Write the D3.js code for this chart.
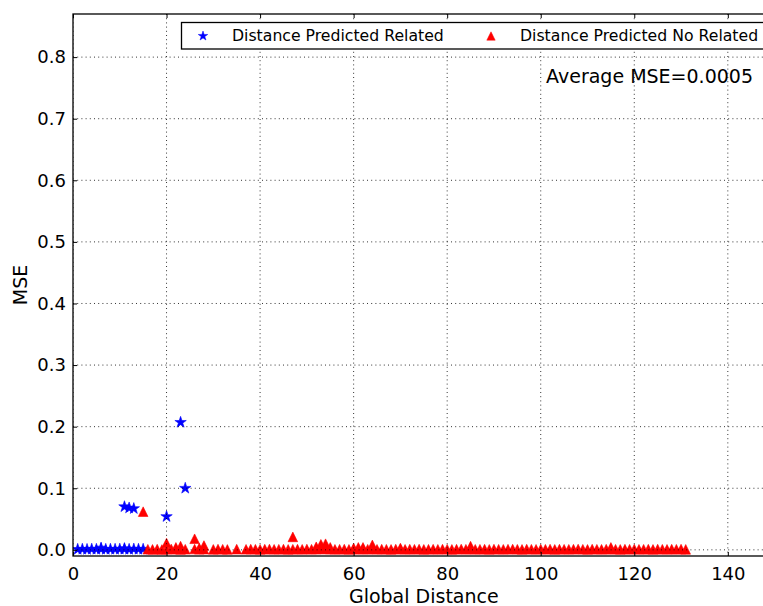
<!DOCTYPE html>
<html>
<head>
<meta charset="utf-8">
<script src="https://cdn.jsdelivr.net/npm/d3@7"></script>
<style>
  html, body { margin: 0; padding: 0; background: #fff; }
  svg { display: block; font-family: "DejaVu Sans", sans-serif; }
</style>
</head>
<body>
<svg id="chart" width="763" height="606"></svg>
<script>
// ---- data ----
const xTicks = [0, 20, 40, 60, 80, 100, 120, 140];
const yTicks = [0.0, 0.1, 0.2, 0.3, 0.4, 0.5, 0.6, 0.7, 0.8];

// pairs predicted as related
const relatedX = [1, 2, 3, 4, 5, 6, 7, 8, 9, 10, 11, 12, 13, 14, 15];
const relatedMSE = [0.0008, 0.0010, 0.0007, 0.0011, 0.0009, 0.0012, 0.0008, 0.0010,
                    0.0009, 0.0011, 0.0010, 0.0008, 0.0012, 0.0009, 0.0010];
const relatedPeakX = [6, 11, 11, 12, 13, 20, 23, 24];
const relatedPeakMSE = [0.003, 0.002, 0.070, 0.068, 0.067, 0.054, 0.207, 0.100];

// pairs predicted as not related
const noRelatedX = [16, 17, 18, 19, 20, 21, 22, 23, 24, 26, 27, 28, 30, 31, 32, 33, 35,
  37, 38, 39, 40, 41, 42, 43, 44, 45, 46,
  47, 48, 49, 50, 51, 52, 53, 54, 55, 56,
  57, 58, 59, 60, 61, 62, 63, 64, 65, 66,
  67, 68, 69, 70, 71, 72, 73, 74, 75, 76,
  77, 78, 79, 80, 81, 82, 83, 84, 85, 86,
  87, 88, 89, 90, 91, 92, 93, 94, 95, 96,
  97, 98, 99, 100, 101, 102, 103, 104, 105, 106,
  107, 108, 109, 110, 111, 112, 113, 114, 115, 116,
  117, 118, 119, 120, 121, 122, 123, 124, 125, 126,
  127, 128, 129, 130, 131];
const noRelatedMSE = [0.0010, 0.0008, 0.0012, 0.0006, 0.0009, 0.0014, 0.0011, 0.0007, 0.0010,
  0.0013, 0.0009, 0.0011, 0.0008, 0.0012, 0.0010, 0.0007, 0.0011,
  0.0009, 0.0012, 0.0010, 0.0008, 0.0011, 0.0013, 0.0009, 0.0010, 0.0012, 0.0008,
  0.0010, 0.0011, 0.0009, 0.0013, 0.0010, 0.0012, 0.0015, 0.0014, 0.0011, 0.0009,
  0.0010, 0.0012, 0.0008, 0.0013, 0.0011, 0.0012, 0.0010, 0.0014, 0.0009, 0.0011,
  0.0010, 0.0008, 0.0012, 0.0013, 0.0009, 0.0011, 0.0010, 0.0012, 0.0008, 0.0010,
  0.0011, 0.0009, 0.0012, 0.0010, 0.0008, 0.0011, 0.0013, 0.0010, 0.0012, 0.0009,
  0.0010, 0.0011, 0.0008, 0.0012, 0.0010, 0.0009, 0.0011, 0.0013, 0.0010, 0.0008,
  0.0012, 0.0010, 0.0009, 0.0011, 0.0010, 0.0012, 0.0008, 0.0011, 0.0010, 0.0009,
  0.0011, 0.0013, 0.0010, 0.0008, 0.0012, 0.0010, 0.0009, 0.0011, 0.0012, 0.0010,
  0.0008, 0.0011, 0.0010, 0.0012, 0.0009, 0.0010, 0.0011, 0.0008, 0.0012, 0.0010,
  0.0009, 0.0011, 0.0010, 0.0012, 0.0008];
const noRelatedPeakX = [15, 20, 22, 23, 26, 27, 28, 47, 52, 53, 54, 55, 60, 61, 62, 64, 70, 85, 115];
const noRelatedPeakMSE = [0.062, 0.011, 0.004, 0.006, 0.018, 0.003, 0.007, 0.021, 0.005, 0.009,
  0.010, 0.004, 0.003, 0.004, 0.004, 0.008, 0.003, 0.006, 0.004];

const seriesNames = ["Distance Predicted Related", "Distance Predicted No Related"];
const seriesColors = ["#0000ff", "#ff0000"];
const averageLabel = "Average MSE=0.0005";
const xLabel = "Global Distance";
const yLabel = "MSE";

// ---- layout ----
const svg = d3.select("#chart");
const plot = { left: 73, top: 14, right: 774.6, bottom: 556 };

const x = d3.scaleLinear().domain([0, 150]).range([plot.left, plot.right]);
const y = d3.scaleLinear().domain([-0.01, 0.87]).range([plot.bottom, plot.top]);

// marker shapes: five-pointed star and upward triangle; size = outer radius
const starSymbol = {
  draw(ctx, r) {
    const inner = r * 0.381966;
    for (let i = 0; i < 10; i++) {
      const rad = i % 2 === 0 ? r : inner;
      const a = -Math.PI / 2 + i * Math.PI / 5;
      const px = rad * Math.cos(a), py = rad * Math.sin(a);
      if (i === 0) ctx.moveTo(px, py); else ctx.lineTo(px, py);
    }
    ctx.closePath();
  }
};
const triangleSymbol = {
  draw(ctx, r) {
    ctx.moveTo(0, -r);
    ctx.lineTo(-r, r);
    ctx.lineTo(r, r);
    ctx.closePath();
  }
};
const symbols = [starSymbol, triangleSymbol];

svg.append("defs").append("clipPath").attr("id", "plot-clip")
  .append("rect")
  .attr("x", plot.left).attr("y", plot.top)
  .attr("width", plot.right - plot.left).attr("height", plot.bottom - plot.top);

const zip = (xs, ys) => xs.map((v, i) => ({ x: v, mse: ys[i] }));
const series = [
  zip(relatedX, relatedMSE).concat(zip(relatedPeakX, relatedPeakMSE)),
  zip(noRelatedX, noRelatedMSE).concat(zip(noRelatedPeakX, noRelatedPeakMSE))
];
const markerRadius = [6, 4.8];

const marks = svg.append("g").attr("clip-path", "url(#plot-clip)");
series.forEach((pts, si) => {
  const sym = d3.symbol().type(symbols[si]).size(markerRadius[si]);
  marks.append("g").selectAll("path").data(pts).join("path")
    .attr("transform", d => `translate(${x(d.x)},${y(d.mse)})`)
    .attr("d", sym)
    .attr("fill", seriesColors[si])
    .attr("stroke", seriesColors[si])
    .attr("stroke-width", 0.6)
    .attr("stroke-linejoin", "miter");
});

// dotted grid, drawn over the markers
const grid = svg.append("g").attr("clip-path", "url(#plot-clip)")
  .attr("stroke", "#000").attr("stroke-width", 0.8).attr("stroke-dasharray", "1,3.2");
grid.selectAll("line.gx").data(xTicks).join("line")
  .attr("x1", d => x(d)).attr("x2", d => x(d))
  .attr("y1", plot.top).attr("y2", plot.bottom);
grid.selectAll("line.gy").data(yTicks).join("line")
  .attr("x1", plot.left).attr("x2", plot.right)
  .attr("y1", d => y(d)).attr("y2", d => y(d));

// axes with inward ticks on every side
const fmtY = d3.format(".1f");
const styleAxis = g => {
  g.select(".domain").remove();
  g.selectAll(".tick line").attr("stroke", "#000").attr("stroke-width", 1);
  g.selectAll(".tick text").attr("fill", "#000").style("font-size", "18px")
    .style("font-family", "'DejaVu Sans', sans-serif");
};
svg.append("g").attr("transform", `translate(0,${plot.bottom})`)
  .call(d3.axisBottom(x).tickValues(xTicks).tickSizeInner(-4).tickSizeOuter(0).tickPadding(11))
  .call(styleAxis);
svg.append("g").attr("transform", `translate(${plot.left},0)`)
  .call(d3.axisLeft(y).tickValues(yTicks).tickFormat(fmtY).tickSizeInner(-4).tickSizeOuter(0).tickPadding(7))
  .call(styleAxis);
svg.append("g").attr("transform", `translate(0,${plot.top})`)
  .call(d3.axisTop(x).tickValues(xTicks).tickFormat("").tickSizeInner(-4).tickSizeOuter(0))
  .call(styleAxis);
svg.append("g").attr("transform", `translate(${plot.right},0)`)
  .call(d3.axisRight(y).tickValues(yTicks).tickFormat("").tickSizeInner(-4).tickSizeOuter(0))
  .call(styleAxis);

// frame
svg.append("rect")
  .attr("x", plot.left).attr("y", plot.top)
  .attr("width", plot.right - plot.left).attr("height", plot.bottom - plot.top)
  .attr("fill", "none").attr("stroke", "#000").attr("stroke-width", 1.3);

// axis titles
svg.append("text")
  .attr("x", (plot.left + plot.right) / 2).attr("y", 603)
  .attr("text-anchor", "middle").style("font-size", "19px")
  .text(xLabel);
svg.append("text")
  .attr("transform", `translate(27,${(plot.top + plot.bottom) / 2}) rotate(-90)`)
  .attr("text-anchor", "middle").style("font-size", "19px")
  .text(yLabel);

// legend
const legend = svg.append("g");
legend.append("rect")
  .attr("x", 181.5).attr("y", 22.5).attr("width", 600).attr("height", 26.5)
  .attr("fill", "#fff").attr("stroke", "#000").attr("stroke-width", 1.3);
const legendItems = [
  { mx: 203, tx: 232 },
  { mx: 491, tx: 520 }
];
const legendRadius = [5, 4.2];
legendItems.forEach((it, i) => {
  legend.append("path")
    .attr("transform", `translate(${it.mx},36)`)
    .attr("d", d3.symbol().type(symbols[i]).size(legendRadius[i]))
    .attr("fill", seriesColors[i]).attr("stroke", seriesColors[i]).attr("stroke-width", 0.5);
  legend.append("text")
    .attr("x", it.tx).attr("y", 41)
    .style("font-size", "15.7px")
    .text(seriesNames[i]);
});

// summary annotation
svg.append("text")
  .attr("x", 753).attr("y", 83)
  .attr("text-anchor", "end").style("font-size", "19px")
  .text(averageLabel);
</script>
</body>
</html>
